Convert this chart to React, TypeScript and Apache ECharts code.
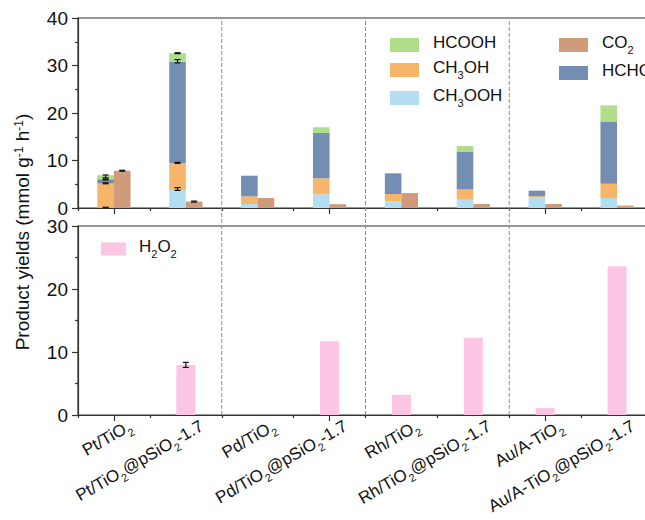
import React, { useEffect, useRef } from 'react';
import * as echarts from 'echarts';

const categories = [
  'Pt/TiO2', 'Pt/TiO2@pSiO2-1.7', 'Pd/TiO2', 'Pd/TiO2@pSiO2-1.7',
  'Rh/TiO2', 'Rh/TiO2@pSiO2-1.7', 'Au/A-TiO2', 'Au/A-TiO2@pSiO2-1.7',
];
// top panel (stack increments, mmol g-1 h-1)
const ch3ooh = [0.1, 3.8, 0.85, 2.9, 1.4, 1.75, 2.3, 2.1];
const ch3oh = [5.05, 5.7, 1.6, 3.35, 1.55, 2.15, 0.2, 3.0];
const hcho = [0.9, 21.25, 4.35, 9.55, 4.35, 8.0, 1.15, 13.1];
const hcooh = [0.85, 1.85, 0, 1.2, 0, 1.15, 0, 3.4];
const co2 = [7.85, 1.35, 2.1, 0.8, 3.15, 0.85, 0.85, 0.5];
// bottom panel
const h2o2 = [0, 7.95, 0, 11.7, 3.2, 12.25, 1.1, 23.6];
// error bars: [categoryIndex, value, error, side(-1 stacked, 1 CO2, 0 single)]
const topErrorBars = [
  [0, 0.1, 0.05, -1], [0, 5.2, 0.1, -1], [0, 6.0, 0.1, -1], [0, 6.65, 0.3, -1], [0, 7.85, 0.1, 1],
  [1, 4.0, 0.3, -1], [1, 9.5, 0.1, -1], [1, 30.9, 0.35, -1], [1, 32.6, 0.1, -1], [1, 1.35, 0.1, 1],
];
const h2o2ErrorBars = [[1, 7.95, 0.4, 0]];
// group separators (in category-band units)
const separators = [2, 4, 6];
const topAxis = { min: 0, max: 40, interval: 10 };
const bottomAxis = { min: 0, max: 30, interval: 10 };

const FONT = '"Liberation Sans", Arial, Helvetica, sans-serif';
const AXIS_COLOR = '#333';
const TEXT_COLOR = '#111';

function wrap(k: string, t: string) {
  return t ? `{${k}|${t}}` : '';
}
function toRich(s: string) {
  let out = '';
  let last = 0;
  const re = /([A-Za-z])(\d+)/g;
  let m: RegExpExecArray | null;
  while ((m = re.exec(s))) {
    const idx = m.index + 1;
    out += wrap('n', s.slice(last, idx));
    out += wrap('s', m[2]);
    last = idx + m[2].length;
    re.lastIndex = last;
  }
  out += wrap('n', s.slice(last));
  return out;
}

const richSub = (fs: number, lh: number, sfs: number, pad: number) => ({
  n: { fontSize: fs, lineHeight: lh, verticalAlign: 'top', fontFamily: FONT, color: TEXT_COLOR },
  s: { fontSize: sfs, lineHeight: lh - pad, padding: [pad, 0, 0, 0], verticalAlign: 'top', fontFamily: FONT, color: TEXT_COLOR },
});

export default function App() {
  const ref = useRef<HTMLDivElement>(null);
  useEffect(() => {
    if (!ref.current) return;
    const chart = echarts.init(ref.current, undefined, { renderer: 'svg' });
    const n = categories.length;
    const left = 78;
    const width = 575;
    const halfBar = 8.3;
    const axisLine = { show: true, lineStyle: { color: AXIS_COLOR, width: 1.2 } };
    const catAxis = (gridIndex: number) => ({
      type: 'category', gridIndex, data: categories, position: 'bottom',
      axisLine, axisTick: { show: true, alignWithLabel: true, length: 6, lineStyle: { color: AXIS_COLOR, width: 1.2 } },
      axisLabel: { show: false }, splitLine: { show: false },
    });
    const boundaryAxis = (gridIndex: number) => ({
      type: 'value', gridIndex, min: 0, max: n, interval: 1, position: 'bottom',
      axisLine: { show: false }, axisTick: { show: true, length: 3, lineStyle: { color: AXIS_COLOR, width: 1.2 } },
      axisLabel: { show: false }, splitLine: { show: false },
    });
    const valAxis = (gridIndex: number, cfg: any) => ({
      type: 'value', gridIndex, ...cfg,
      axisLine, axisTick: { show: true, length: 6, lineStyle: { color: AXIS_COLOR, width: 1.2 } },
      minorTick: { show: true, splitNumber: 2, length: 3, lineStyle: { color: AXIS_COLOR, width: 1.2 } },
      axisLabel: { fontSize: 19, fontFamily: FONT, color: TEXT_COLOR, margin: 10 },
      splitLine: { show: false }, minorSplitLine: { show: false },
    });
    const errStyle = { stroke: '#111', lineWidth: 1.2 };
    const errRender = (params: any, api: any) => {
      const i = api.value(0), v = api.value(1), e = api.value(2), side = api.value(3);
      const top = api.coord([i, v + e]);
      const bot = api.coord([i, Math.max(0, v - e)]);
      const x = top[0] + side * halfBar;
      return {
        type: 'group',
        children: [
          { type: 'line', shape: { x1: x, y1: top[1], x2: x, y2: bot[1] }, style: errStyle },
          { type: 'line', shape: { x1: x - 3, y1: top[1], x2: x + 3, y2: top[1] }, style: errStyle },
          { type: 'line', shape: { x1: x - 3, y1: bot[1], x2: x + 3, y2: bot[1] }, style: errStyle },
        ],
      };
    };
    const legendRich = richSub(17, 22, 11, 10);
    const legendCommon = {
      orient: 'vertical', icon: 'rect', itemWidth: 29, itemHeight: 14, itemGap: 7,
      selectedMode: false, formatter: (name: string) => toRich(name),
      textStyle: { rich: legendRich, padding: [0, 0, 0, 9] },
    };
    const bar = (name: string, data: number[], color: string, extra: any = {}) => ({
      name, type: 'bar', data, barWidth: 16.6, barGap: '0%', itemStyle: { color },
      xAxisIndex: 0, yAxisIndex: 0, ...extra,
    });
    const yTitle = '{n|Product yields (mmol g}{p|-1}{n| h}{p|-1}{n|)}';
    chart.setOption({
      animation: false,
      backgroundColor: '#fff',
      grid: [
        { left, width, top: 18, height: 190, show: true, borderColor: AXIS_COLOR, borderWidth: 1.2, backgroundColor: 'transparent' },
        { left, width, top: 226, height: 189, show: true, borderColor: AXIS_COLOR, borderWidth: 1.2, backgroundColor: 'transparent' },
        { left: left + 12, width, top: 226, height: 189 },
        { left, width, top: 18, height: 397 },
      ],
      xAxis: [
        catAxis(0),
        boundaryAxis(0),
        catAxis(1),
        boundaryAxis(1),
        {
          type: 'category', gridIndex: 2, data: categories, position: 'bottom',
          axisLine: { show: false }, axisTick: { show: false }, splitLine: { show: false },
          axisLabel: {
            show: true, interval: 0, rotate: 30, margin: 10, align: 'right', verticalAlign: 'top',
            formatter: (v: string) => toRich(v), rich: richSub(17, 22, 11, 10),
          },
        },
        { type: 'value', gridIndex: 3, min: 0, max: n, show: false },
      ],
      yAxis: [
        valAxis(0, topAxis),
        valAxis(1, bottomAxis),
        { type: 'value', gridIndex: 2, ...bottomAxis, show: false },
        { type: 'value', gridIndex: 3, min: 0, max: 1, show: false },
      ],
      legend: [
        { ...legendCommon, data: ['HCOOH', 'CH3OH', 'CH3OOH'], left: 385, top: 29 },
        { ...legendCommon, data: ['CO2', 'HCHO'], left: 554, top: 29 },
        { ...legendCommon, data: ['H2O2'], left: 96, top: 233, itemWidth: 25, itemHeight: 13,
          textStyle: { rich: legendRich, padding: [0, 0, 0, 8] } },
      ],
      graphic: [
        {
          type: 'text', x: 25, y: 232, rotation: Math.PI / 2,
          style: {
            text: yTitle, align: 'center', verticalAlign: 'middle', fill: TEXT_COLOR,
            rich: {
              n: { fontSize: 19, lineHeight: 24, verticalAlign: 'top', fontFamily: FONT, fill: TEXT_COLOR },
              p: { fontSize: 12, lineHeight: 12, padding: [0, 0, 12, 0], verticalAlign: 'top', fontFamily: FONT, fill: TEXT_COLOR },
            },
          },
        },
      ],
      series: [
        bar('CH3OOH', ch3ooh, '#b3def2', { stack: 'top' }),
        bar('CH3OH', ch3oh, '#f7b56a', { stack: 'top' }),
        bar('HCHO', hcho, '#738eb2', { stack: 'top' }),
        bar('HCOOH', hcooh, '#b0dd8a', { stack: 'top' }),
        bar('CO2', co2, '#d09b7a'),
        { name: 'H2O2', type: 'bar', data: h2o2, barWidth: 19, itemStyle: { color: '#fcc5e4' }, xAxisIndex: 2, yAxisIndex: 1 },
        { type: 'custom', xAxisIndex: 0, yAxisIndex: 0, data: topErrorBars, renderItem: errRender, z: 10, encode: { x: 0, y: 1 }, silent: true },
        { type: 'custom', xAxisIndex: 2, yAxisIndex: 1, data: h2o2ErrorBars, renderItem: errRender, z: 10, encode: { x: 0, y: 1 }, silent: true },
        {
          type: 'custom', xAxisIndex: 5, yAxisIndex: 3, data: separators.map((v) => [v, 0]), silent: true, z: 1,
          encode: { x: 0, y: 1 },
          renderItem: (params: any, api: any) => {
            const v = api.value(0);
            const p0 = api.coord([v, 0]);
            const p1 = api.coord([v, 1]);
            return {
              type: 'line', shape: { x1: p0[0], y1: p0[1], x2: p1[0], y2: p1[1] },
              style: { stroke: '#8c8c8c', lineWidth: 1, lineDash: [4, 2] },
            };
          },
        },
      ],
    });
    return () => chart.dispose();
  }, []);
  return (
    <div style={{ position: 'fixed', left: 0, top: 0, width: 645, height: 520, overflow: 'hidden', background: '#fff' }}>
      <div ref={ref} style={{ width: 680, height: 520 }} />
    </div>
  );
}
